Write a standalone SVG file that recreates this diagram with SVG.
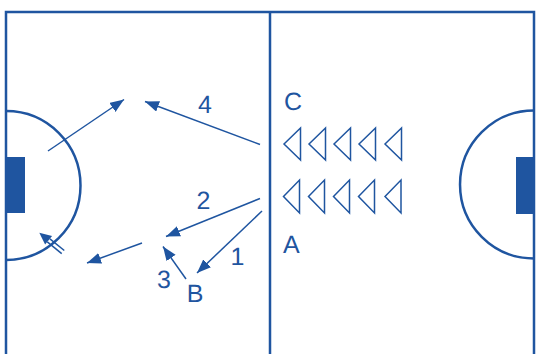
<svg xmlns="http://www.w3.org/2000/svg" width="536" height="354" viewBox="0 0 536 354">
<style>
.f{fill:none;stroke:#1F55A0;stroke-width:2.5}
.g{fill:#1F55A0;stroke:none}
.a{fill:none;stroke:#1F55A0;stroke-width:1.5}
.c{fill:#fff;stroke:#1F55A0;stroke-width:1.5;stroke-linejoin:miter}
.t{font-family:"Liberation Sans",Arial,sans-serif;font-size:25px;fill:#1F55A0;text-rendering:geometricPrecision}
.n{text-anchor:middle}
</style>
<defs>
<marker id="ah" markerUnits="userSpaceOnUse" markerWidth="16" markerHeight="12" refX="14" refY="5.5" orient="auto">
<path d="M0,0 L14,5.5 L0,11 z" fill="#1F55A0"/>
</marker>
</defs>
<rect width="536" height="354" fill="#fff"/>
<g id="field">
<path class="f" d="M6,354 V12 H534 V354"/>
<path class="f" d="M270,12 V354"/>
<path class="f" d="M6,111 A74.5,74.5 0 0 1 6,260"/>
<path class="f" d="M534,110.5 A74,74 0 0 0 534,258.5"/>
<rect class="g" x="6" y="157" width="19" height="56"/>
<rect class="g" x="516" y="157" width="18" height="57"/>
</g>
<g id="cones">
<path class="c" d="M284,144 L300.5,128 V160 Z"/>
<path class="c" d="M309,144 L325.5,128 V160 Z"/>
<path class="c" d="M334,144 L350.5,128 V160 Z"/>
<path class="c" d="M359,144 L375.5,128 V160 Z"/>
<path class="c" d="M385,144 L401.5,128 V160 Z"/>
<path class="c" d="M283.5,196.5 L299.5,180 V213 Z"/>
<path class="c" d="M308.5,196.5 L324.5,180 V213 Z"/>
<path class="c" d="M333.5,196.5 L349.5,180 V213 Z"/>
<path class="c" d="M358.5,196.5 L374.5,180 V213 Z"/>
<path class="c" d="M385,196.5 L401,180 V213 Z"/>
</g>
<g id="connectors">
<line class="a" x1="260" y1="144.5" x2="145" y2="101.5" marker-end="url(#ah)"/>
<line class="a" x1="48" y1="151" x2="124" y2="99.5" marker-end="url(#ah)"/>
<line class="a" x1="260" y1="198.5" x2="166" y2="236.5" marker-end="url(#ah)"/>
<line class="a" x1="262" y1="211" x2="197" y2="273" marker-end="url(#ah)"/>
<line class="a" x1="186" y1="279" x2="163" y2="246.5" marker-end="url(#ah)"/>
<line class="a" x1="142" y1="243" x2="87" y2="263" marker-end="url(#ah)"/>
<line class="a" x1="64.3" y1="250.5" x2="49.9" y2="238.8"/>
<line class="a" x1="61.7" y1="253.6" x2="47.3" y2="241.8"/>
<path class="g" d="M39.3,232.7 L52.1,236 L45.1,244.6 Z"/>
</g>
<g id="labels">
<text class="t" x="284" y="110">C</text>
<text class="t" x="283" y="253">A</text>
<text class="t n" x="205" y="113">4</text>
<text class="t n" x="203.5" y="209">2</text>
<text class="t n" x="237.5" y="265">1</text>
<text class="t n" x="164" y="288">3</text>
<text class="t n" x="195" y="302">B</text>
</g>
</svg>
